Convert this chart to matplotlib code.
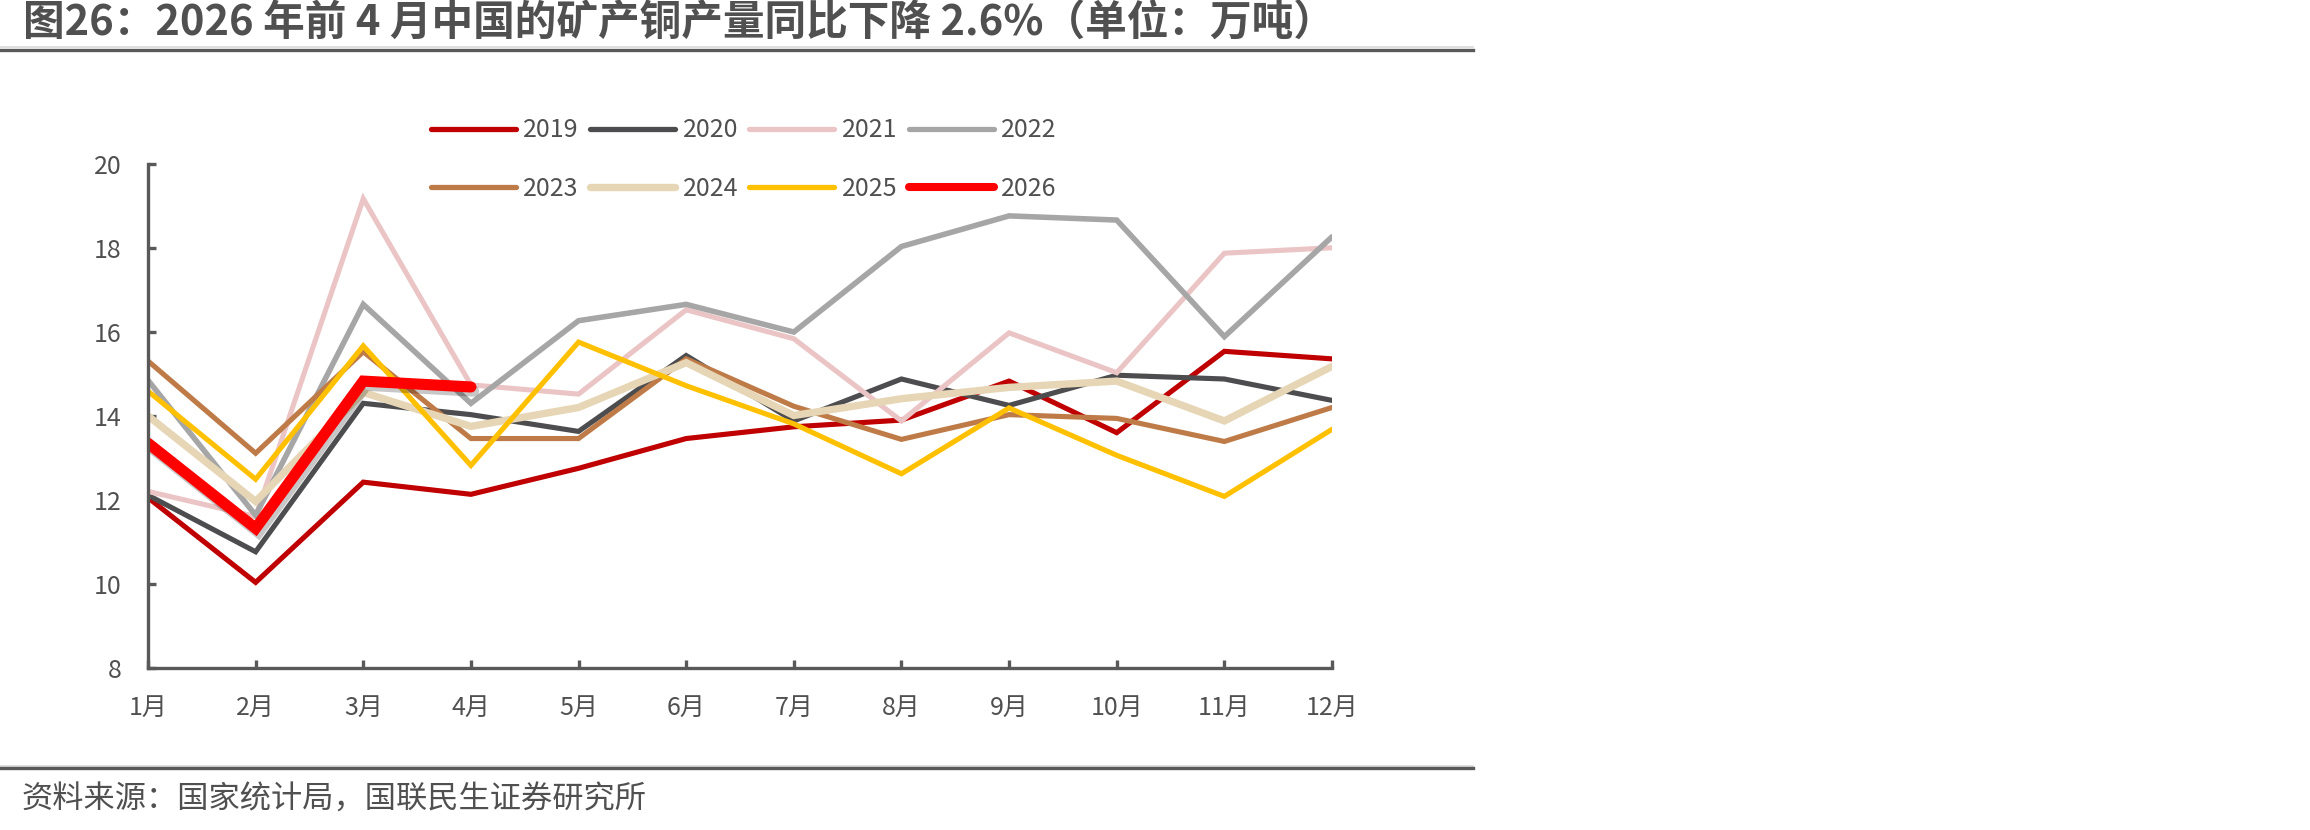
import matplotlib
matplotlib.use('Agg')
import matplotlib.pyplot as plt
from matplotlib import patheffects as pe
from matplotlib.lines import Line2D

plt.rcParams['font.family'] = ['Noto Sans CJK SC', 'DejaVu Sans']

months = ['1月', '2月', '3月', '4月', '5月', '6月', '7月', '8月', '9月', '10月', '11月', '12月']
x = list(range(1, 13))

# 万吨
y2019 = [12.05, 10.03, 12.42, 12.13, 12.75, 13.46, 13.74, 13.90, 14.83, 13.60, 15.54, 15.36]
y2020 = [12.11, 10.76, 14.30, 14.03, 13.63, 15.44, 13.88, 14.88, 14.25, 14.97, 14.88, 14.37]
y2021 = [12.20, 11.60, 19.18, 14.74, 14.52, 16.53, 15.84, 13.88, 15.98, 15.03, 17.88, 18.01]
y2022 = [14.85, 11.63, 16.66, 14.30, 16.27, 16.66, 16.00, 18.04, 18.77, 18.67, 15.89, 18.27]
y2023 = [15.31, 13.11, 15.53, 13.46, 13.46, 15.36, 14.23, 13.44, 14.03, 13.94, 13.39, 14.20]
y2024 = [14.00, 11.96, 14.56, 13.75, 14.20, 15.27, 14.01, 14.41, 14.68, 14.83, 13.88, 15.18]
y2025 = [14.59, 12.49, 15.67, 12.82, 15.76, 14.72, 13.81, 12.62, 14.19, 13.06, 12.08, 13.68]
y2026 = [13.35, 11.32, 14.83, 14.69]

years = ['2019', '2020', '2021', '2022', '2023', '2024', '2025', '2026']
series = [y2019, y2020, y2021, y2022, y2023, y2024, y2025, y2026]
colors = ['#C00000', '#4D4D4F', '#EBC5C5', '#A6A6A6', '#BF7B47', '#E6D6B5', '#FFC000', '#FF0000']
widths = [3.7, 3.7, 3.7, 4.0, 3.7, 5.3, 3.7, 8.0]
leg_widths = [3.8, 3.8, 3.8, 3.8, 3.8, 5.3, 3.8, 5.8]

txt = '#505050'
axc = '#595959'

fig = plt.figure(figsize=(23.1, 8.3), dpi=100)
ax = fig.add_axes([0.06407, 0.19578, 0.51255, 0.60627])

for yr, vals, c, lw in zip(years, series, colors, widths):
    line, = ax.plot(x[:len(vals)], vals, color=c, lw=lw, solid_capstyle='round',
                    solid_joinstyle='miter', label=yr)
    if yr == '2026':
        line.set_path_effects([pe.SimpleLineShadow(offset=(2, -3), shadow_color='k', alpha=0.22),
                               pe.Normal()])

ax.set_xlim(1, 12)
ax.set_ylim(8, 20)
ax.set_xticks(x)
ax.set_xticklabels(months)
ax.set_yticks(range(8, 21, 2))
for s in ['top', 'right']:
    ax.spines[s].set_visible(False)
for s in ['left', 'bottom']:
    ax.spines[s].set_color(axc)
    ax.spines[s].set_linewidth(2.4)
ax.tick_params(axis='both', direction='in', length=5.8, width=2.4, color=axc,
               labelsize=18, labelcolor=txt)
ax.tick_params(axis='y', pad=19)
ax.tick_params(axis='x', pad=20)

# legend: 2 rows x 4 columns, filled row-wise
handles = [Line2D([0], [0], color=c, lw=lw, solid_capstyle='round')
           for c, lw in zip(colors, leg_widths)]
order = [0, 4, 1, 5, 2, 6, 3, 7]
fig.legend([handles[i] for i in order], [years[i] for i in order],
           loc='center', bbox_to_anchor=(0.322, 0.8078), ncol=4, frameon=False,
           fontsize=18, labelcolor=txt, handlelength=3.4, handletextpad=0.3,
           columnspacing=0.45, labelspacing=1.3, borderpad=0)

# title and source with rules
fig.text(23 / 2310, 1 - 24 / 830, '图26：2026 年前 4 月中国的矿产铜产量同比下降 2.6%（单位：万吨）',
         fontsize=30, fontweight='bold', color=txt, va='center', ha='left')
fig.add_artist(Line2D([0, 1473 / 2310], [1 - 47.5 / 830] * 2, color='#D9D9D9', lw=1.2))
fig.add_artist(Line2D([0, 1473 / 2310], [1 - 50 / 830] * 2, color=axc, lw=2.4))
fig.add_artist(Line2D([0, 1473 / 2310], [1 - 765.5 / 830] * 2, color='#D9D9D9', lw=1.2))
fig.add_artist(Line2D([0, 1473 / 2310], [1 - 768 / 830] * 2, color=axc, lw=2.4))
fig.text(21 / 2310, 1 - 800 / 830, '资料来源：国家统计局，国联民生证券研究所',
         fontsize=22.5, color=txt, va='center', ha='left')

fig.savefig('out.png', dpi=100)
